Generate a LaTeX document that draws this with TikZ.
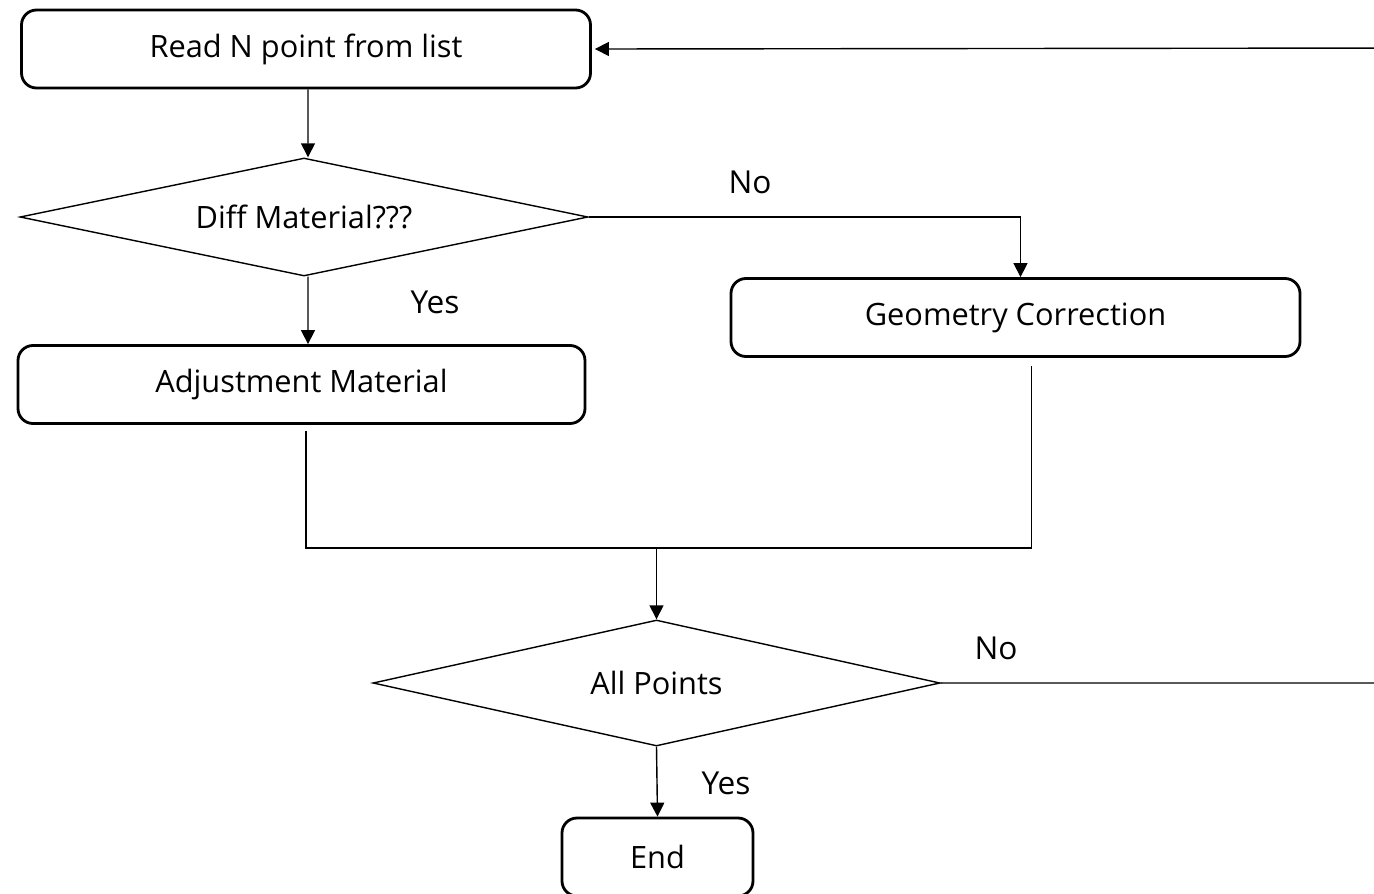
\documentclass[tikz,border=0pt]{standalone}
\usepackage{fontspec}
\setmainfont{Open Sans}
\usetikzlibrary{arrows.meta, positioning, shapes.geometric}
\tikzset{
    stepbox/.style={rectangle, draw, line width=1.6pt, rounded corners=0.3cm, minimum height=1.56cm, inner sep=2pt, font=\fontsize{17.5}{20}\selectfont},
    decision/.style={diamond, draw, line width=0.8pt, aspect=5, inner sep=0pt, font=\fontsize{17.5}{20}\selectfont},
    flowlabel/.style={inner sep=0pt, font=\fontsize{18}{20}\selectfont},
    flow/.style={line width=0.8pt}
}

\begin{document}
\begin{tikzpicture}[>={Triangle[length=0.28cm, width=0.28cm]}]
  \clip (0,0) rectangle (27.48,-17.86);
  \node[stepbox, minimum width=11.38cm] (read) at (6.12, -0.98) {Read N point from list};
  \node[decision, minimum width=11.36cm, minimum height=2.36cm] (diff) at (6.08, -4.34) {Diff Material???};
  \node[stepbox, minimum width=11.34cm] (adj) at (6.03, -7.69) {Adjustment Material};
  \node[stepbox, minimum width=11.38cm] (geo) at (20.31, -6.35) {Geometry Correction};
  \node[decision, minimum width=11.34cm, minimum height=2.52cm] (all) at (13.13, -13.66) {All Points};
  \node[stepbox, minimum width=3.82cm] (end) at (13.15, -17.14) {End};
  \node[flowlabel] (yes1) at (8.70, -6.04) {Yes};
  \node[flowlabel] (no1) at (15.00, -3.64) {No};
  \node[flowlabel] (no2) at (19.92, -12.96) {No};
  \node[flowlabel] (yes2) at (14.52, -15.66) {Yes};
  \coordinate (join) at (13.13, -10.96);
  \coordinate (loopb) at (28.20, -13.66);
  \coordinate (loopt) at (28.20, -0.96);
  \draw[flow, ->] ([xshift=0.04cm]read.south) -- ([xshift=0.08cm]diff.north);
  \draw[flow, ->] ([xshift=0.08cm]diff.south) -- ([xshift=0.13cm]adj.north);
  \draw[flow, ->] (diff.east) -| ([xshift=0.1cm]geo.north);
  \draw[flow, shorten <=0.12cm] ([xshift=0.09cm]adj.south) |- (join);
  \draw[flow, shorten <=0.16cm] ([xshift=0.32cm]geo.south) |- (join);
  \draw[flow, ->] (join) -- (all.north);
  \draw[flow, ->] (all.south) -- (end.north);
  \draw[flow, ->] (all.east) -- (loopb) -- (loopt) -- ([xshift=0.06cm]read.east);
\end{tikzpicture}
\end{document}
